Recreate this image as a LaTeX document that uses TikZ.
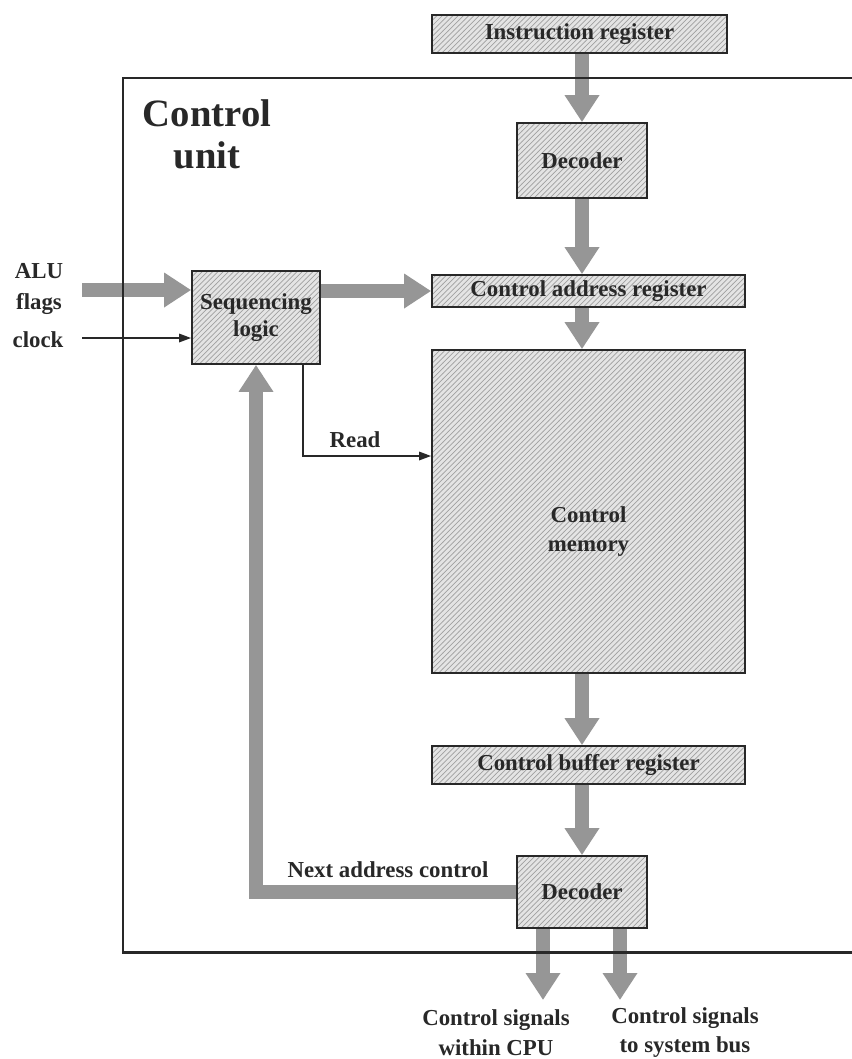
\documentclass[tikz,border=0pt]{standalone}
\usepackage{fontspec}
\setmainfont{Liberation Serif}
\usetikzlibrary{arrows.meta,patterns}
\definecolor{inkgray}{RGB}{40,40,40}
\definecolor{fillgray}{RGB}{228,228,228}
\definecolor{hatchgray}{RGB}{160,160,160}
\definecolor{busgray}{RGB}{150,150,150}
\tikzset{
  boxtext/.style={font=\fontsize{13}{17}\selectfont\bfseries, text=inkgray},
  titletext/.style={font=\fontsize{22}{24}\selectfont\bfseries, text=inkgray},
  regbox/.style={draw=inkgray, line width=1pt, preaction={fill=fillgray},
                 pattern=north east lines, pattern color=hatchgray, boxtext, inner sep=2pt},
  bus/.style={draw=busgray, line width=0.28cm, -{Triangle[length=0.54cm, width=0.66cm]}},
  wire/.style={draw=inkgray, line width=0.9pt, -{Triangle[length=0.24cm, width=0.17cm]}},
  frame/.style={draw=inkgray, line width=1.7pt},
}
\begin{document}
\begin{tikzpicture}
\useasboundingbox (0,0) rectangle (17.02,-21.18);

% --- registers, decoders and memory ---
\node[regbox, minimum width=5.9cm, minimum height=0.76cm] (ireg) at (11.59,-0.68) {Instruction register};
\node[regbox, minimum width=2.6cm, minimum height=1.5cm] (dec1) at (11.64,-3.21) {Decoder};
\node[regbox, minimum width=6.26cm, minimum height=0.64cm] (car) at (11.77,-5.82) {Control address register};
\node[regbox, minimum width=2.56cm, minimum height=1.86cm, align=center] (seq) at (5.12,-6.35) {Sequencing\\[-2pt]logic};
\node[regbox, minimum width=6.26cm, minimum height=6.46cm,
      label={[boxtext, align=center, yshift=-0.4cm]center:Control\\memory}] (cmem) at (11.77,-10.23) {};
\node[regbox, minimum width=6.26cm, minimum height=0.76cm] (cbr) at (11.77,-15.3) {Control buffer register};
\node[regbox, minimum width=2.6cm, minimum height=1.44cm] (dec2) at (11.64,-17.84) {Decoder};

% --- loose ends ---
\coordinate (alu) at (1.64,-5.8);
\coordinate (clk) at (1.64,-6.76);
\coordinate (out1) at (10.86,-20.0);
\coordinate (out2) at (12.4,-20.0);

% --- wide data paths ---
\draw[bus] (ireg.south -| dec1) -- (dec1.north);
\draw[bus] (dec1.south) -- (car.north -| dec1);
\draw[bus] (car.south -| dec1) -- (cmem.north -| dec1);
\draw[bus] (cmem.south -| dec1) -- (cbr.north -| dec1);
\draw[bus] (cbr.south -| dec1) -- (dec2.north);
\draw[bus] (alu) -- (alu -| seq.west);
\draw[bus] (seq.east |- car) -- (car.west);
\draw[bus] (dec2.west) -| (seq.south);
\draw[bus] (dec2.south -| out1) -- (out1);
\draw[bus] (dec2.south -| out2) -- (out2);

% --- single lines ---
\draw[wire] (clk) -- (clk -| seq.west);
\draw[wire] ([xshift=0.94cm]seq.south) |- ([yshift=1.11cm]cmem.west);

% --- labels ---
\node[titletext, align=center] (cu) at (4.14,-2.68) {Control\\unit};
\node[boxtext, align=center, font=\fontsize{13}{18}\selectfont\bfseries] (aluflags) at (0.78,-5.78) {ALU\\flags};
\node[boxtext] (clock) at (0.76,-6.8) {clock};
\node[boxtext] (read) at (7.1,-8.8) {Read};
\node[boxtext] (nac) at (7.76,-17.4) {Next address control};
\node[boxtext, align=center] (sig1) at (9.92,-20.65) {Control signals\\within CPU};
\node[boxtext, align=center] (sig2) at (13.7,-20.65) {Control signals\\to system bus};

% --- control unit frame ---
\draw[frame] (17.1,-1.56) -- (2.46,-1.56) -- (2.46,-19.04) -- (17.1,-19.04);
\end{tikzpicture}
\end{document}
